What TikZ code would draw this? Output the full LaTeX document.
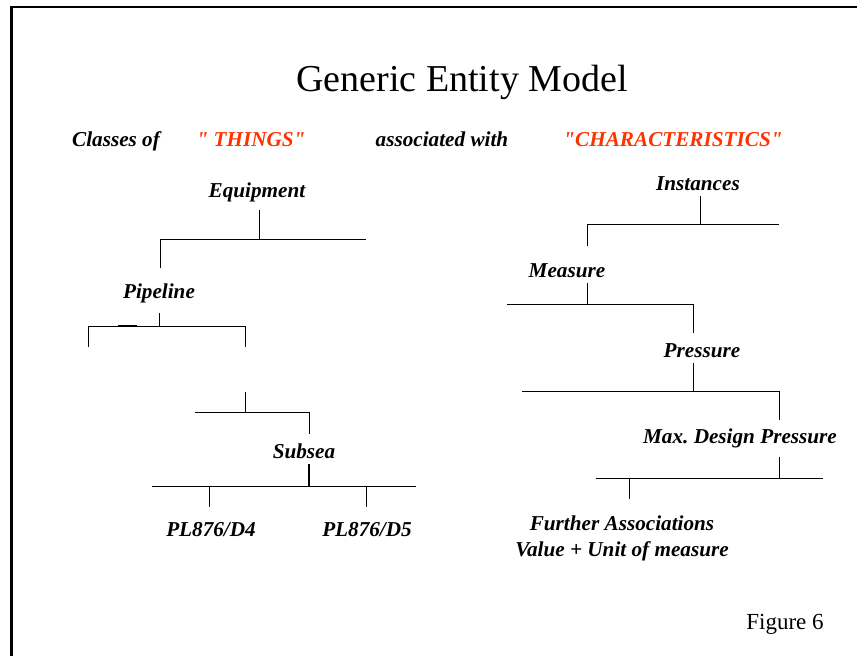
\documentclass[tikz,border=0pt]{standalone}
\usepackage{fontspec}
\setmainfont{Liberation Serif}
\definecolor{thingred}{RGB}{255,51,0}
\frenchspacing
\newcommand\sqt{\XeTeXglyph\XeTeXcharglyph"0022\relax}
\begin{document}
\begin{tikzpicture}[x=1pt,y=-1pt,line width=0.8pt,
  lbl/.style={font=\fontsize{21.2}{25}\selectfont\bfseries\itshape,inner sep=0pt,anchor=base},
  redlbl/.style={lbl,text=thingred},
  titlelbl/.style={font=\fontsize{38}{44}\selectfont,inner sep=0pt,anchor=base},
  figlbl/.style={font=\fontsize{23}{27}\selectfont,inner sep=0pt,anchor=base},
  tree/.style={line width=0.8pt},
  frame/.style={line width=2.4pt}]
\useasboundingbox (0,0) rectangle (857,656);
% frame
\coordinate (fTL) at (11.5,7);
\coordinate (fTR) at (857,7);
\coordinate (fBL) at (11.5,656);
\draw[frame] (fBL) -- (fTL) -- (fTR);
% texts
\node[titlelbl] (title) at (462,91) {Generic Entity Model};
\node[lbl] (classes) at (116,146) {Classes of};
\node[redlbl] (things) at (251,146) {\sqt{} THINGS\sqt};
\node[lbl] (assoc) at (442,146) {associated with};
\node[redlbl] (chars) at (673,146) {\sqt CHARACTERISTICS\sqt};
\node[lbl] (equip) at (257,197) {Equipment};
\node[lbl] (pipe) at (159,298) {Pipeline};
\node[lbl] (subsea) at (304,458) {Subsea};
\node[lbl] (d4) at (211,536) {PL876/D4};
\node[lbl] (d5) at (367,536) {PL876/D5};
\node[lbl] (inst) at (698,190) {Instances};
\node[lbl] (meas) at (567,277) {Measure};
\node[lbl] (press) at (702,357) {Pressure};
\node[lbl] (maxp) at (740,443) {Max. Design Pressure};
\node[lbl] (further) at (622,530) {Further Associations};
\node[lbl] (value) at (622,556) {Value + Unit of measure};
\node[figlbl] (fig) at (785,629) {Figure 6};
% left tree coordinates
\coordinate (a1) at (259,210); \coordinate (a2) at (259,239);
\coordinate (a3) at (160,239); \coordinate (a4) at (366,239); \coordinate (a5) at (160,268);
\coordinate (b1) at (159,313); \coordinate (b2) at (159,326);
\coordinate (b3) at (88,326); \coordinate (b4) at (245,326);
\coordinate (b5) at (88,347); \coordinate (b6) at (245,347);
\coordinate (b7) at (118,325.5); \coordinate (b8) at (137,325.5);
\coordinate (c1) at (245,392); \coordinate (c2) at (245,412);
\coordinate (c3) at (195,412); \coordinate (c4) at (309,412); \coordinate (c5) at (309,434);
\coordinate (d1) at (309,464); \coordinate (d2) at (309,486);
\coordinate (d3) at (152,486); \coordinate (d4c) at (416,486);
\coordinate (d5c) at (209,486); \coordinate (d6) at (209,507);
\coordinate (d7) at (366,486); \coordinate (d8) at (366,507);
\draw[tree] (a1) -- (a2);
\draw[tree] (a5) -- (a3) -- (a4);
\draw[tree] (b1) -- (b2);
\draw[tree] (b5) -- (b3) -- (b4) -- (b6);
\draw[line width=1.6pt] (b7) -- (b8);
\draw[tree] (c1) -- (c2);
\draw[tree] (c3) -- (c4) -- (c5);
\draw[line width=1.2pt] (d1) -- (d2);
\draw[tree] (d3) -- (d4c);
\draw[tree] (d5c) -- (d6);
\draw[tree] (d7) -- (d8);
% right tree coordinates
\coordinate (e1) at (700,196); \coordinate (e2) at (700,224);
\coordinate (e3) at (587,224); \coordinate (e4) at (779,224); \coordinate (e5) at (587,246);
\coordinate (f1) at (587,283); \coordinate (f2) at (587,304);
\coordinate (f3) at (507,304); \coordinate (f4) at (693,304); \coordinate (f5) at (693,333);
\coordinate (g1) at (693,363); \coordinate (g2) at (693,391);
\coordinate (g3) at (522,391); \coordinate (g4) at (779,391); \coordinate (g5) at (779,420);
\coordinate (h1) at (779,457); \coordinate (h2) at (779,478);
\coordinate (h3) at (596,478); \coordinate (h4) at (823,478);
\coordinate (h5) at (629,478); \coordinate (h6) at (629,499);
\draw[tree] (e1) -- (e2);
\draw[tree] (e5) -- (e3) -- (e4);
\draw[tree] (f1) -- (f2);
\draw[tree] (f3) -- (f4) -- (f5);
\draw[tree] (g1) -- (g2);
\draw[tree] (g3) -- (g4) -- (g5);
\draw[tree] (h1) -- (h2);
\draw[tree] (h3) -- (h4);
\draw[tree] (h5) -- (h6);
\end{tikzpicture}
\end{document}
